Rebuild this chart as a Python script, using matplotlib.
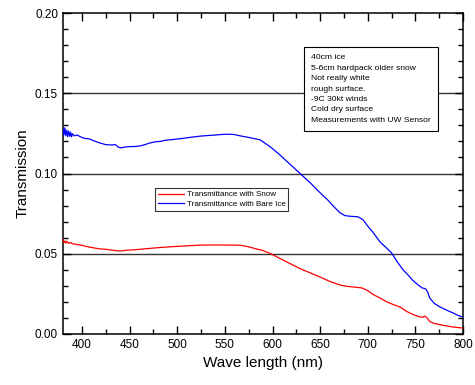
import matplotlib.pyplot as plt
from matplotlib.ticker import MultipleLocator, FormatStrFormatter

plt.rcParams['font.family'] = ['Liberation Sans', 'DejaVu Sans']

# Transmittance with bare ice (blue)
ice_wl = [380, 381, 382, 383, 384, 385, 386, 387, 388, 389, 390, 392, 395, 398, 402,
          408, 414, 419, 425, 430, 435, 438, 441, 445, 450, 455, 461, 466, 471, 477,
          482, 487, 492, 500, 507, 513, 520, 524, 530, 540, 548, 555, 560, 566, 575,
          587, 598, 608, 618, 629, 640, 650, 658, 665, 671, 676, 681, 686, 690, 695,
          699, 706, 713, 719, 725, 731, 737, 742, 747, 752, 757, 759, 761, 763, 765,
          770, 776, 783, 790, 795, 800]
ice_tr = [0.128, 0.124, 0.1285, 0.1235, 0.127, 0.123, 0.1265, 0.1232, 0.1258, 0.1228, 0.1248,
          0.1235, 0.124, 0.123, 0.122, 0.1215, 0.120, 0.119, 0.118, 0.1178, 0.118, 0.1165,
          0.116, 0.1165, 0.1168, 0.1168, 0.1172, 0.118, 0.119, 0.1198, 0.120, 0.1207,
          0.121, 0.1215, 0.122, 0.1225, 0.123, 0.1233, 0.1236, 0.124, 0.1244, 0.1245,
          0.1243, 0.1235, 0.1225, 0.121, 0.1165, 0.1115, 0.106, 0.100, 0.094, 0.088,
          0.0835, 0.079, 0.0755, 0.0738, 0.0734, 0.0732, 0.073, 0.0712, 0.068, 0.063,
          0.0573, 0.054, 0.0505, 0.045, 0.040, 0.037, 0.0336, 0.031, 0.0287, 0.0285,
          0.028, 0.026, 0.0225, 0.019, 0.0168, 0.0148, 0.013, 0.0115, 0.0106]

# Transmittance with snow (red)
snow_wl = [380, 381, 382, 383, 384, 386, 388, 390, 395, 398, 405, 412, 419, 425, 432,
           440, 447, 455, 461, 470, 480, 489, 500, 512, 524, 540, 558, 566, 573, 580,
           590, 599, 608, 618, 628, 640, 650, 660, 671, 678, 685, 694, 700, 706, 713,
           720, 727, 734, 741, 748, 755, 758, 760, 762, 765, 770, 776, 783, 790, 800]
snow_tr = [0.059, 0.057, 0.058, 0.0565, 0.0578, 0.0565, 0.057, 0.0562, 0.0558, 0.0555,
           0.0545, 0.0537, 0.053, 0.0528, 0.0522, 0.0517, 0.0522, 0.0525, 0.0528, 0.0533,
           0.0538, 0.0542, 0.0546, 0.055, 0.0554, 0.0555, 0.0554, 0.0553, 0.0546, 0.0535,
           0.052, 0.0498, 0.047, 0.044, 0.041, 0.038, 0.0355, 0.0328, 0.0305, 0.0297,
           0.0293, 0.0287, 0.027, 0.0245, 0.0224, 0.020, 0.0183, 0.0168, 0.014, 0.012,
           0.0106, 0.0105, 0.0112, 0.0102, 0.0078, 0.0065, 0.0058, 0.005, 0.0043, 0.0037]

notes = ["40cm ice", "5-6cm hardpack older snow", "Not really white", "rough surface.",
         "-9C 30kt winds", "Cold dry surface", "Measurements with UW Sensor"]

fig = plt.figure(figsize=(4.75, 3.85), dpi=100)
ax = fig.add_axes([0.1326, 0.1325, 0.8421, 0.8335])

for yv in [0.05, 0.10, 0.15]:
    ax.axhline(yv, color='#333333', lw=1.0, zorder=1)

ax.plot(snow_wl, snow_tr, color='#ff0000', lw=0.9, label='Transmittance with Snow', zorder=3)
ax.plot(ice_wl, ice_tr, color='#0000ff', lw=0.9, label='Transmittance with Bare Ice', zorder=3)

ax.set_xlim(380, 800)
ax.set_ylim(0, 0.20)
ax.xaxis.set_major_locator(MultipleLocator(50))
ax.xaxis.set_minor_locator(MultipleLocator(25))
ax.yaxis.set_major_locator(MultipleLocator(0.05))
ax.yaxis.set_minor_locator(MultipleLocator(0.01))
ax.yaxis.set_major_formatter(FormatStrFormatter('%.2f'))
ax.tick_params(which='both', direction='in', top=True, right=True, labelsize=8.5, width=1.0)
ax.tick_params(which='major', length=6)
ax.tick_params(which='minor', length=3.5)
for s in ax.spines.values():
    s.set_linewidth(1.1)

ax.set_xlabel('Wave length (nm)', fontsize=11)
ax.set_ylabel('Transmission', fontsize=11)

leg = ax.legend(loc='upper left', bbox_to_anchor=(0.23, 0.455), fontsize=5.8, frameon=True,
                fancybox=False, edgecolor='black', handlelength=3.2, handletextpad=0.4,
                borderpad=0.35, labelspacing=0.2, borderaxespad=0)
leg.get_frame().set_linewidth(0.8)
leg.set_zorder(5)

ax.text(0.621, 0.871, "\n".join(notes), transform=ax.transAxes, fontsize=6.1, va='top',
        ha='left', linespacing=1.68, zorder=6,
        bbox=dict(boxstyle='square,pad=0.85', facecolor='white', edgecolor='black', lw=0.8))

fig.savefig('out.png', dpi=100)
